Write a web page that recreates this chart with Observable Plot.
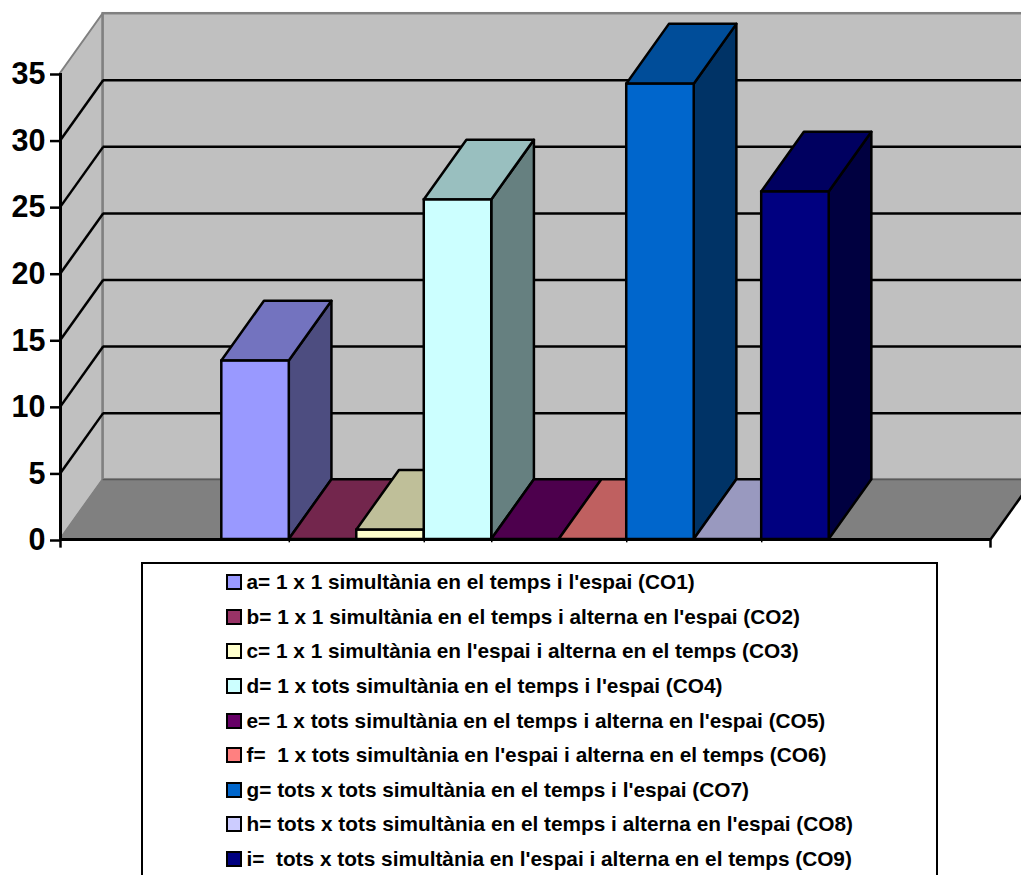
<!DOCTYPE html>
<html lang="ca">
<head>
<meta charset="utf-8">
<script src="https://cdn.jsdelivr.net/npm/d3@7"></script>
<script src="https://cdn.jsdelivr.net/npm/@observablehq/plot@0.6"></script>
<style>
  html, body { margin: 0; padding: 0; background: #fff; width: 1021px; height: 875px; overflow: hidden; }
  #chart svg { display: block; background: #fff; }
  #legend {
    box-sizing: border-box;
    margin: 0 0 0 141px;
    width: 797px;
    height: 340px;
    border: 2.5px solid #000;
    border-bottom: none;
    padding-top: 1px;
    font: bold 20.8px "Liberation Sans", Arial, sans-serif;
    color: #000;
    white-space: pre;
  }
  .row { display: flex; align-items: center; height: 34.6px; padding-left: 83px; }
  .swatch { box-sizing: border-box; width: 16px; height: 16px; border: 2px solid #000; margin-right: 4.5px; flex: none; }
</style>
</head>
<body>
<div id="chart"></div>
<div id="legend"></div>
<script>
// Strategy categories and their share, one column per category
const names = ["a", "b", "c", "d", "e", "f", "g", "h", "i"];
const values = [13.4, 0, 0.7, 25.5, 0, 0, 34.2, 0, 26.1];
const colors = ["#9999ff", "#993366", "#ffffcc", "#ccffff", "#660066", "#ff8080", "#0066cc", "#ccccff", "#000080"];
const labels = [
  "a= 1 x 1 simultània en el temps i l'espai (CO1)",
  "b= 1 x 1 simultània en el temps i alterna en l'espai (CO2)",
  "c= 1 x 1 simultània en l'espai i alterna en el temps (CO3)",
  "d= 1 x tots simultània en el temps i l'espai (CO4)",
  "e= 1 x tots simultània en el temps i alterna en l'espai (CO5)",
  "f=  1 x tots simultània en l'espai i alterna en el temps (CO6)",
  "g= tots x tots simultània en el temps i l'espai (CO7)",
  "h= tots x tots simultània en el temps i alterna en l'espai (CO8)",
  "i=  tots x tots simultània en l'espai i alterna en el temps (CO9)"
];
const yTicks = [0, 5, 10, 15, 20, 25, 30, 35];
const gridValues = [5, 10, 15, 20, 25, 30];

// Extent of the category axis, in column widths, and the oblique depth offset
const xMin = -2.39, xMax = 11.39;
const depthX = 0.632, depthY = 4.49;
const yMax = 35;
const shortTicks = [1, 3, 4, 6, 8];
const longTicks = [xMin, xMax];

// Column faces lit from the front: the top and side are darker versions of the fill
const shade = (c, k) => {
  const {r, g, b} = d3.rgb(c);
  return d3.rgb(r * k, g * k, b * k).formatHex();
};

// The parallelogram faces are two-point areas
const sideFace = (x, low, high, options) => Plot.areaY(
  [{x, y1: low, y2: high}, {x: x + depthX, y1: low + depthY, y2: high + depthY}],
  {x: "x", y1: "y1", y2: "y2", ...options}
);
const topFace = (left, right, level, options) => Plot.areaX(
  [{y: level, x1: left, x2: right}, {y: level + depthY, x1: left + depthX, x2: right + depthX}],
  {y: "y", x1: "x1", x2: "x2", ...options}
);

const columns = values.flatMap((v, i) => {
  const stroke = {stroke: "#000", strokeWidth: 2.5};
  const marks = [];
  if (v > 0) marks.push(sideFace(i + 1, 0, v, {fill: shade(colors[i], 0.5), ...stroke}));
  marks.push(topFace(i, i + 1, v, {fill: shade(colors[i], 0.75), ...stroke}));
  if (v > 0) marks.push(Plot.rect([v], {x1: i, x2: i + 1, y1: 0, y2: (d) => d, fill: colors[i], ...stroke}));
  return marks;
});

const chart = Plot.plot({
  width: 1021,
  height: 562,
  marginLeft: 60,
  marginRight: 31,
  marginTop: 73,
  marginBottom: 23,
  x: {type: "linear", domain: [xMin, xMax], axis: null},
  y: {domain: [0, yMax], axis: null},
  marks: [
    // Walls and floor of the box
    sideFace(xMin, 0, yMax, {fill: "#c0c0c0", stroke: "#808080", strokeWidth: 2}),
    Plot.rect([0], {x1: xMin + depthX, x2: xMax + depthX, y1: depthY, y2: yMax + depthY, fill: "#c0c0c0", stroke: "#808080", strokeWidth: 2.5}),
    topFace(xMin, xMax, 0, {fill: "#808080", stroke: "#808080", strokeWidth: 1}),
    Plot.ruleY([depthY], {x1: xMin + depthX, x2: xMax + depthX, stroke: "#505050", strokeWidth: 1}),
    Plot.link([[xMax, 0, xMax + depthX, depthY]], {x1: "0", y1: "1", x2: "2", y2: "3", stroke: "#000", strokeWidth: 2.5}),

    // Gridlines: along the back wall, then down the side wall
    Plot.ruleY(gridValues, {y: (d) => d + depthY, x1: xMin + depthX, x2: xMax + depthX, stroke: "#000", strokeWidth: 2.5}),
    Plot.link(gridValues, {x1: xMin, x2: xMin + depthX, y1: (d) => d, y2: (d) => d + depthY, stroke: "#000", strokeWidth: 2.5}),

    ...columns,

    // Axis lines and ticks
    Plot.ruleY([0], {x1: xMin, x2: xMax, stroke: "#000", strokeWidth: 3}),
    Plot.ruleX([xMin], {y1: 0, y2: yMax, stroke: "#000", strokeWidth: 3}),
    Plot.ruleX(longTicks, {y1: 0, y2: -0.65, stroke: "#000", strokeWidth: 2.5}),
    Plot.ruleX(shortTicks, {y1: 0, y2: -0.25, stroke: "#000", strokeWidth: 1.5}),
    Plot.axisY(yTicks, {
      anchor: "left",
      tickSize: 10,
      tickPadding: 5,
      strokeWidth: 2.5,
      stroke: "#000",
      fill: "#000",
      fontSize: 30.5,
      fontWeight: "bold",
      fontFamily: "'Liberation Sans', Arial, sans-serif",
      tickFormat: (d) => d,
      label: null,
      dy: 1
    })
  ]
});
document.getElementById("chart").append(chart);

// Legend box under the plot
const legend = d3.select("#legend");
labels.forEach((label, i) => {
  const row = legend.append("div").attr("class", "row");
  row.append("span").attr("class", "swatch").style("background", colors[i]);
  row.append("span").text(label);
});
</script>
</body>
</html>
